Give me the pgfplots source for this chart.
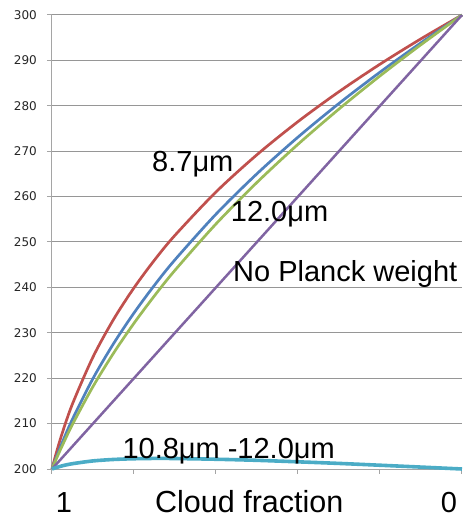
\documentclass[border=0pt]{standalone}
\usepackage{pgfplots}
\usepackage{pgfplotstable}
\pgfplotsset{compat=1.18}
\usepackage{fontspec}
\setmainfont{Liberation Sans}
\newfontfamily\tickfont{DejaVu Sans}
\definecolor{cR}{HTML}{C0504D}
\definecolor{cB}{HTML}{4F81BD}
\definecolor{cG}{HTML}{9BBB59}
\definecolor{cP}{HTML}{8064A2}
\definecolor{cC}{HTML}{4BACC6}
\definecolor{gridc}{RGB}{150,150,150}
\definecolor{axc}{RGB}{165,165,165}
\pgfplotstableread{
f     r      b      g      p     d
1     200    200    200    200   200
0.99  203.39 202.42 202.12 201   200.30
0.975 207.91 205.83 205.13 202.5 200.70
0.95  214.35 210.99 209.82 205   201.17
0.9   224.67 219.94 218.16 210   201.78
0.85  232.93 227.60 225.50 215   202.10
0.8   239.91 234.37 232.11 220   202.26
0.75  246.02 240.49 238.16 225   202.33
0.7   251.48 246.09 243.78 230   202.31
0.6   261.02 256.13 253.98 240   202.15
0.5   269.23 265.04 263.13 250   201.91
0.4   276.52 273.10 271.52 260   201.58
0.3   283.11 280.52 279.29 270   201.23
0.2   289.16 287.41 286.58 280   200.83
0.1   294.76 293.88 293.46 290   200.42
0     300    300    300    300   200
}\datatable
\begin{document}
\begin{tikzpicture}
\path[use as bounding box] (-52pt,-50pt) rectangle (412pt,469pt);
\begin{axis}[at={(0pt,0pt)}, anchor=south west, scale only axis,
  width=410pt, height=454pt,
  xmin=0, xmax=1, x dir=reverse, ymin=200, ymax=300,
  axis x line*=bottom, axis y line*=left,
  axis line style={axc, line width=1pt, -},
  xtick={0,0.2,0.4,0.6,0.8,1}, xticklabels={},
  ytick={200,210,...,300},
  tick align=outside, major tick length=5pt,
  tick style={axc, line width=1pt},
  ymajorgrids, grid style={gridc, line width=1pt},
  yticklabel style={font=\tickfont\fontsize{12}{12}\selectfont, inner sep=0pt, xshift=-10pt, text=black!85},
  /pgf/number format/assume math mode=true,
  clip=false]
\addplot[cR, line width=2.7pt, smooth] table[x=f, y=r] {\datatable};
\addplot[cB, line width=2.7pt, smooth] table[x=f, y=b] {\datatable};
\addplot[cG, line width=2.7pt, smooth] table[x=f, y=g] {\datatable};
\addplot[cP, line width=2.5pt] table[x=f, y=p] {\datatable};
\addplot[cC, line width=3.6pt, smooth] table[x=f, y=d] {\datatable};
\end{axis}
\begin{scope}[every node/.style={inner sep=0pt, font=\fontsize{29}{29}\selectfont}]
\node[anchor=base west] at (100pt,297.3pt) {8.7μm};
\node[anchor=base west] at (178.7pt,247.3pt) {12.0μm};
\node[anchor=base west] at (181pt,187.3pt) {No Planck weight};
\node[anchor=base west] at (70.3pt,10.7pt) {10.8μm -12.0μm};
\node[anchor=base] at (12pt,-43.5pt) {1};
\node[anchor=base west, font=\fontsize{30.5}{30.5}\selectfont] at (103pt,-43.5pt) {Cloud fraction};
\node[anchor=base] at (397pt,-43.5pt) {0};
\end{scope}
\end{tikzpicture}
\end{document}
